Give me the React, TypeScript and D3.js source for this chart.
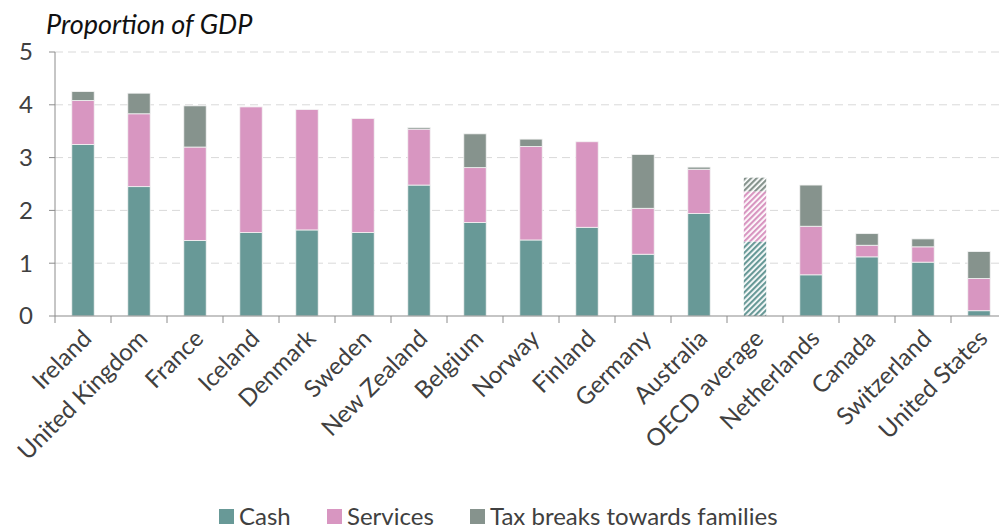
import React, { useEffect, useRef } from "react";
import * as d3 from "d3";

const countries = [
  "Ireland", "United Kingdom", "France", "Iceland", "Denmark", "Sweden",
  "New Zealand", "Belgium", "Norway", "Finland", "Germany", "Australia",
  "OECD average", "Netherlands", "Canada", "Switzerland", "United States",
];
const cash = [3.25, 2.45, 1.43, 1.58, 1.63, 1.58, 2.48, 1.77, 1.44, 1.68, 1.17, 1.94, 1.41, 0.78, 1.12, 1.02, 0.10];
const services = [0.83, 1.38, 1.77, 2.38, 2.28, 2.16, 1.06, 1.04, 1.77, 1.62, 0.87, 0.84, 0.95, 0.92, 0.22, 0.29, 0.61];
const taxBreaks = [0.17, 0.39, 0.78, 0, 0, 0, 0.03, 0.64, 0.14, 0, 1.02, 0.04, 0.26, 0.78, 0.22, 0.15, 0.51];
const yTicks = [0, 1, 2, 3, 4, 5];

const seriesNames = ["Cash", "Services", "Tax breaks towards families"];
const colors = ["#689997", "#d896c1", "#86938d"];
const highlight = "OECD average";

const FONT = "Lato, 'Open Sans', sans-serif";

export default function App() {
  const svgRef = useRef<SVGSVGElement>(null);

  useEffect(() => {
    if (!svgRef.current) return;
    const width = 999;
    const svg = d3.select(svgRef.current);
    svg.selectAll("*").remove();

    const left = 55;
    const top = 52;
    const bottom = 316;

    // hatch patterns for the average bar
    const defs = svg.append("defs");
    colors.forEach((c, i) => {
      const p = defs
        .append("pattern")
        .attr("id", `hatch${i}`)
        .attr("patternUnits", "userSpaceOnUse")
        .attr("width", 4)
        .attr("height", 4)
        .attr("patternTransform", "rotate(45)");
      p.append("rect").attr("width", 4).attr("height", 4).attr("fill", "#fff");
      p.append("rect").attr("width", 2.2).attr("height", 4).attr("fill", c);
    });

    const x = d3
      .scaleBand()
      .domain(countries)
      .range([left, 1007])
      .paddingInner(0.6)
      .paddingOuter(0.3);
    const step = x.step();

    const y = d3.scaleLinear().domain([0, 5]).range([bottom, top]);

    // gridlines
    svg
      .append("g")
      .selectAll("line")
      .data(yTicks.filter(t => t > 0))
      .enter()
      .append("line")
      .attr("x1", left)
      .attr("x2", width)
      .attr("y1", d => y(d))
      .attr("y2", d => y(d))
      .attr("stroke", "#d9d9d9")
      .attr("stroke-width", 1)
      .attr("stroke-dasharray", "8,5");

    // stacked bars
    const rows = countries.map((c, i) => ({
      country: c,
      cash: cash[i],
      services: services[i],
      tax: taxBreaks[i],
    }));
    const stack = d3.stack<any>().keys(["cash", "services", "tax"]);
    const stacked = stack(rows);

    stacked.forEach((layer, li) => {
      svg
        .append("g")
        .selectAll("rect")
        .data(layer.filter(d => d[1] - d[0] > 0.001))
        .enter()
        .append("rect")
        .attr("x", d => x(d.data.country)!)
        .attr("width", x.bandwidth())
        .attr("y", d => y(d[1]))
        .attr("height", d => y(d[0]) - y(d[1]))
        .attr("fill", d =>
          d.data.country === highlight ? `url(#hatch${li})` : colors[li]
        )
        .attr("stroke", d => (d.data.country === highlight ? "none" : "#f4f4f4"))
        .attr("stroke-width", 0.8);
    });

    // y axis
    const axisColor = "#8c8c8c";
    svg
      .append("line")
      .attr("x1", left)
      .attr("x2", left)
      .attr("y1", top)
      .attr("y2", bottom)
      .attr("stroke", axisColor);
    svg
      .append("g")
      .selectAll("line")
      .data(yTicks)
      .enter()
      .append("line")
      .attr("x1", left - 6)
      .attr("x2", left)
      .attr("y1", d => y(d))
      .attr("y2", d => y(d))
      .attr("stroke", axisColor);
    svg
      .append("g")
      .selectAll("text")
      .data(yTicks)
      .enter()
      .append("text")
      .attr("x", 33)
      .attr("y", d => y(d))
      .attr("dy", "0.35em")
      .attr("text-anchor", "end")
      .style("font-family", FONT)
      .style("font-size", "24px")
      .attr("fill", "#404040")
      .text(d => d);

    // x axis
    svg
      .append("line")
      .attr("x1", left)
      .attr("x2", width)
      .attr("y1", bottom)
      .attr("y2", bottom)
      .attr("stroke", axisColor)
      .attr("stroke-width", 1.2);
    svg
      .append("g")
      .selectAll("line")
      .data(countries)
      .enter()
      .append("line")
      .attr("x1", d => x(d)! - (step - x.bandwidth()) / 2)
      .attr("x2", d => x(d)! - (step - x.bandwidth()) / 2)
      .attr("y1", bottom)
      .attr("y2", bottom + 7)
      .attr("stroke", axisColor);

    svg
      .append("g")
      .selectAll("text")
      .data(countries)
      .enter()
      .append("text")
      .attr(
        "transform",
        d => `translate(${x(d)! + x.bandwidth() / 2 + 10},${bottom + 24}) rotate(-45)`
      )
      .attr("text-anchor", "end")
      .style("font-family", FONT)
      .style("font-size", "24px")
      .attr("fill", "#404040")
      .text(d => d);

    // title
    svg
      .append("text")
      .attr("x", 46)
      .attr("y", 34)
      .style("font-family", FONT)
      .style("font-size", "27px")
      .style("font-style", "italic")
      .attr("fill", "#111")
      .text("Proportion of GDP");

    // legend
    const legendX = [219, 327, 470];
    const lg = svg.append("g");
    seriesNames.forEach((name, i) => {
      lg.append("rect")
        .attr("x", legendX[i])
        .attr("y", 509)
        .attr("width", 15)
        .attr("height", 15)
        .attr("fill", colors[i]);
      lg.append("text")
        .attr("x", legendX[i] + 20)
        .attr("y", 525)
        .style("font-family", FONT)
        .style("font-size", "24px")
        .attr("fill", "#404040")
        .text(name);
    });
  }, []);

  return (
    <svg
      ref={svgRef}
      width={999}
      height={532}
      style={{ position: "absolute", left: 0, top: 0, background: "#fff" }}
    />
  );
}
